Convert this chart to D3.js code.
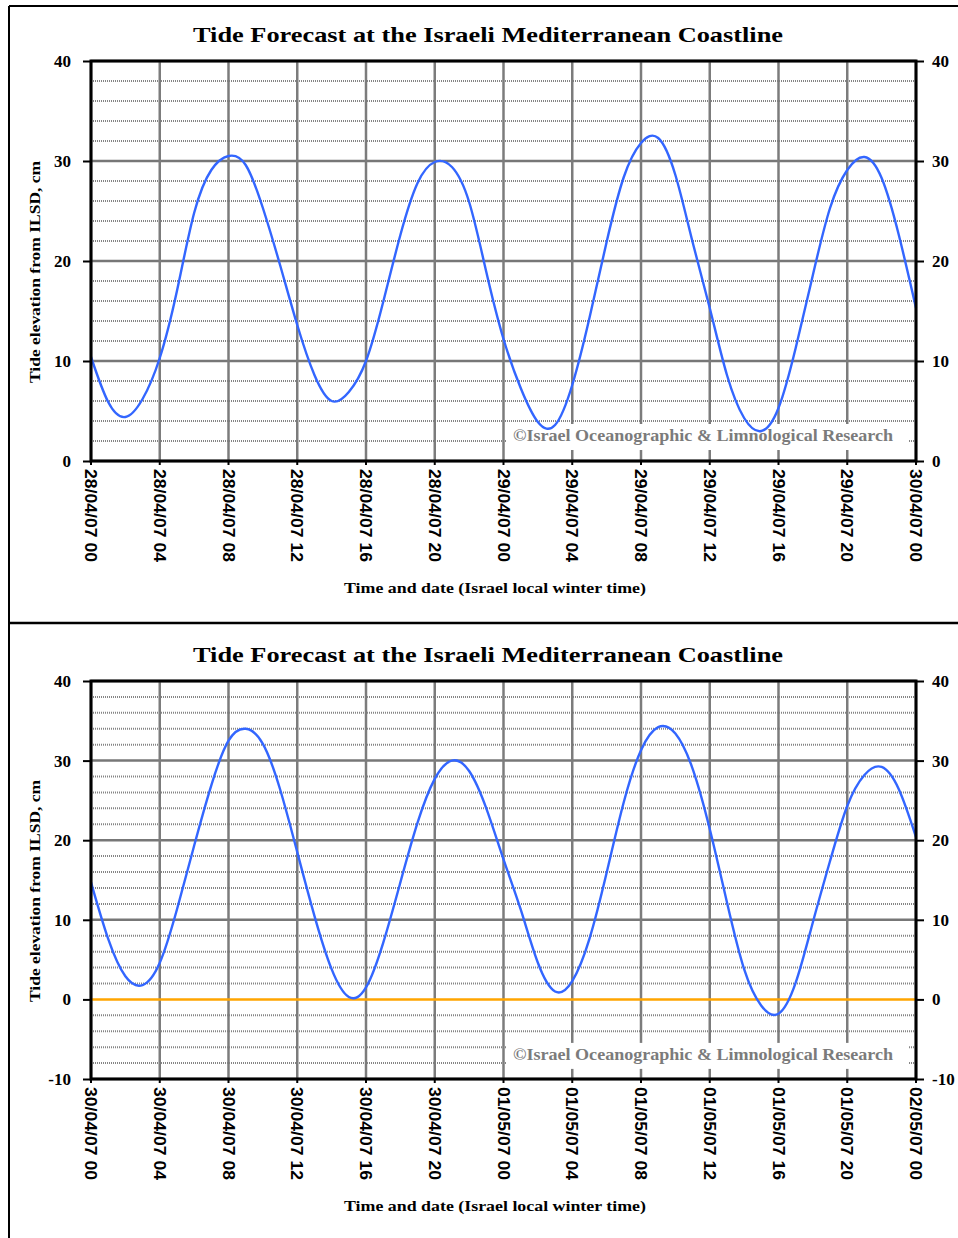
<!DOCTYPE html>
<html>
<head>
<meta charset="utf-8">
<script src="https://cdn.jsdelivr.net/npm/d3@7"></script>
<style>
  body { margin: 0; background: #fff; }
  svg { display: block; }
</style>
</head>
<body>
<div class="chart"></div>
<script>
// hourly tide elevation (cm), 0..48 h
const hours = d3.range(0, 49);
const tideTop = [10.4, 5.9, 4.4, 6.2, 10.3, 17.0, 24.8, 29.1, 30.5, 29.6, 25.3, 19.6,
  13.6, 8.6, 6.0, 6.9, 10.0, 15.9, 22.6, 27.8, 29.9, 29.4, 25.9, 18.9,
  12.2, 7.3, 3.9, 3.6, 7.6, 14.3, 21.9, 28.4, 31.8, 32.3, 28.6, 21.9,
  15.3, 8.6, 4.3, 3.0, 5.3, 11.3, 18.6, 25.3, 29.1, 30.4, 28.3, 22.6, 15.3];
const tideBottom = [14.7, 7.6, 2.9, 1.8, 4.6, 11.3, 19.3, 26.9, 32.5, 34.0, 32.1, 26.4,
  18.5, 10.5, 3.8, 0.3, 1.5, 7.1, 14.7, 22.2, 27.7, 30.0, 28.7, 24.0,
  17.6, 11.3, 4.6, 1.0, 2.3, 7.6, 15.9, 24.8, 31.3, 34.2, 33.4, 29.0,
  21.4, 12.2, 3.8, -0.8, -1.8, 2.1, 9.7, 17.4, 24.3, 28.2, 29.2, 26.4, 20.4];

const tickHours = [0, 4, 8, 12, 16, 20, 24, 28, 32, 36, 40, 44, 48];
const labelsTop = ["28/04/07 00", "28/04/07 04", "28/04/07 08", "28/04/07 12", "28/04/07 16",
  "28/04/07 20", "29/04/07 00", "29/04/07 04", "29/04/07 08", "29/04/07 12",
  "29/04/07 16", "29/04/07 20", "30/04/07 00"];
const labelsBottom = ["30/04/07 00", "30/04/07 04", "30/04/07 08", "30/04/07 12", "30/04/07 16",
  "30/04/07 20", "01/05/07 00", "01/05/07 04", "01/05/07 08", "01/05/07 12",
  "01/05/07 16", "01/05/07 20", "02/05/07 00"];
const yTicksTop = [0, 10, 20, 30, 40];
const yTicksBottom = [-10, 0, 10, 20, 30, 40];

const titleText = "Tide Forecast at the Israeli Mediterranean Coastline";
const yTitle = "Tide elevation from ILSD, cm";
const xTitle = "Time and date (Israel local winter time)";
const credit = "\u00A9Israel Oceanographic  & Limnological Research";

const width = 958, height = 1238;
const serif = "'Liberation Serif', 'Times New Roman', serif";
const sans = "'Liberation Sans', Arial, sans-serif";

const svg = d3.select(".chart").append("svg")
  .attr("width", width)
  .attr("height", height);

// outer frame
svg.append("line").attr("x1", 9).attr("x2", 9).attr("y1", 6).attr("y2", height)
  .attr("stroke", "black").attr("stroke-width", 2);
svg.append("line").attr("x1", 9).attr("x2", width).attr("y1", 6).attr("y2", 6)
  .attr("stroke", "black").attr("stroke-width", 2);
svg.append("line").attr("x1", 9).attr("x2", width).attr("y1", 623).attr("y2", 623)
  .attr("stroke", "black").attr("stroke-width", 2.5);

function drawChart(o) {
  const g = svg.append("g").attr("transform", `translate(0, ${o.offset})`);
  const left = 91, right = 916, top = 61, bottom = 461 + o.extra;

  const x = d3.scaleLinear().domain([0, 48]).range([left, right]);
  const y = d3.scaleLinear().domain(o.yDomain).range([bottom, top]);

  // title
  g.append("text")
    .attr("x", 488).attr("y", 42)
    .attr("text-anchor", "middle")
    .attr("textLength", 590).attr("lengthAdjust", "spacingAndGlyphs")
    .style("font-family", serif).style("font-weight", "bold").style("font-size", "22px")
    .text(titleText);

  // minor grid every 2 cm
  const minor = d3.range(o.yDomain[0], o.yDomain[1] + 0.1, 2).filter(v => v % 10 !== 0);
  g.append("g").selectAll("line").data(minor).join("line")
    .attr("x1", left).attr("x2", right)
    .attr("y1", d => y(d)).attr("y2", d => y(d))
    .attr("stroke", "#858585").attr("stroke-width", 2)
    .attr("stroke-dasharray", "1 1");

  // major grid
  g.append("g").selectAll("line").data(o.yTicks.filter(v => !(o.zeroLine && v === 0))).join("line")
    .attr("x1", left).attr("x2", right)
    .attr("y1", d => y(d)).attr("y2", d => y(d))
    .attr("stroke", "#777").attr("stroke-width", 2.5);

  g.append("g").selectAll("line").data(tickHours).join("line")
    .attr("x1", d => x(d)).attr("x2", d => x(d))
    .attr("y1", top).attr("y2", bottom)
    .attr("stroke", "#7c7c7c").attr("stroke-width", 2.5);

  // credit box
  const cy = y(o.creditAt);
  g.append("rect")
    .attr("x", 507).attr("y", cy - 17).attr("width", 401).attr("height", 26)
    .attr("fill", "white");
  g.append("text")
    .attr("x", 513).attr("y", cy)
    .attr("textLength", 380).attr("lengthAdjust", "spacingAndGlyphs")
    .attr("fill", "#7b7b7b")
    .style("font-family", serif).style("font-weight", "bold").style("font-size", "16px")
    .text(credit);

  if (o.zeroLine) {
    g.append("line")
      .attr("x1", left).attr("x2", right)
      .attr("y1", y(0)).attr("y2", y(0))
      .attr("stroke", "#ffa500").attr("stroke-width", 2.5);
  }

  const line = d3.line()
    .x((d, i) => x(hours[i]))
    .y(d => y(d))
    .curve(d3.curveNatural);

  g.append("path")
    .datum(o.values)
    .attr("d", line)
    .attr("fill", "none")
    .attr("stroke", "#3366ff")
    .attr("stroke-width", 2.4);

  // plot frame
  g.append("rect")
    .attr("x", left).attr("y", top)
    .attr("width", right - left).attr("height", bottom - top)
    .attr("fill", "none").attr("stroke", "black").attr("stroke-width", 3);

  // y axes, both sides
  const yAxisL = d3.axisLeft(y).tickValues(o.yTicks).tickSize(8).tickPadding(12).tickFormat(d => String(d));
  const yAxisR = d3.axisRight(y).tickValues(o.yTicks).tickSize(8).tickPadding(8).tickFormat(d => String(d));
  [[yAxisL, left], [yAxisR, right]].forEach(([ax, px]) => {
    g.append("g")
      .attr("transform", `translate(${px},0)`)
      .call(ax)
      .call(a => a.select(".domain").remove())
      .call(a => a.selectAll(".tick line").attr("stroke", "black").attr("stroke-width", 2))
      .call(a => a.selectAll(".tick text")
        .style("font-family", serif).style("font-weight", "bold").style("font-size", "17px")
        .attr("fill", "black"));
  });

  // x ticks and rotated labels
  g.append("g").selectAll("line").data(tickHours).join("line")
    .attr("x1", d => x(d)).attr("x2", d => x(d))
    .attr("y1", bottom).attr("y2", bottom + 4)
    .attr("stroke", "black").attr("stroke-width", 2);

  g.append("g").selectAll("text").data(tickHours).join("text")
    .attr("transform", d => `translate(${x(d)}, ${bottom + 8}) rotate(90)`)
    .attr("dy", "0.36em")
    .attr("text-anchor", "start")
    .attr("textLength", 93).attr("lengthAdjust", "spacingAndGlyphs")
    .style("font-family", sans).style("font-weight", "bold").style("font-size", "16px")
    .text((d, i) => o.labels[i]);

  g.append("text")
    .attr("transform", `translate(40, ${(top + bottom) / 2 + 11}) rotate(-90)`)
    .attr("text-anchor", "middle")
    .attr("textLength", 222).attr("lengthAdjust", "spacingAndGlyphs")
    .style("font-family", serif).style("font-weight", "bold").style("font-size", "15px")
    .text(yTitle);

  g.append("text")
    .attr("x", 495).attr("y", bottom + 132)
    .attr("text-anchor", "middle")
    .attr("textLength", 302).attr("lengthAdjust", "spacingAndGlyphs")
    .style("font-family", serif).style("font-weight", "bold").style("font-size", "15px")
    .text(xTitle);
}

drawChart({ offset: 0, extra: 0, yDomain: [0, 40], yTicks: yTicksTop,
  values: tideTop, labels: labelsTop, creditAt: 2, zeroLine: false });
drawChart({ offset: 620, extra: -2, yDomain: [-10, 40], yTicks: yTicksBottom,
  values: tideBottom, labels: labelsBottom, creditAt: -7.6, zeroLine: true });
</script>
</body>
</html>
